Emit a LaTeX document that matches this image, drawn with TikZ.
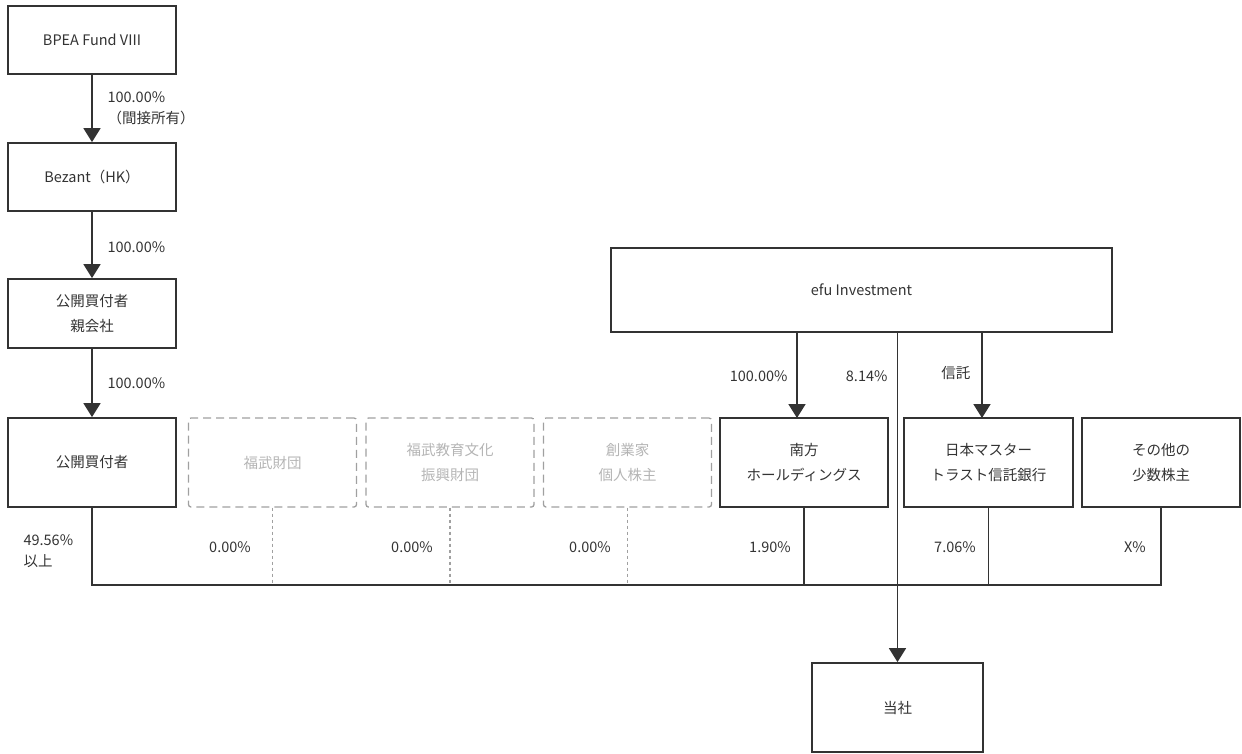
\documentclass[tikz,border=0pt]{standalone}
\usepackage{fontspec}
\setmainfont{Noto Sans CJK JP}
\usetikzlibrary{arrows.meta,positioning}
\definecolor{ink}{HTML}{333333}
\definecolor{faint}{HTML}{A0A0A0}
\definecolor{fainttext}{HTML}{B4B4B4}

\begin{document}
\begin{tikzpicture}[x=1pt, y=-1pt,
  every node/.style={font=\fontsize{14.5}{21}\selectfont, text=ink},
  ent/.style={draw=ink, line width=1.8pt, minimum width=168pt, minimum height=89pt,
    align=center, inner sep=0pt, font=\fontsize{14.5}{25}\selectfont},
  ghost/.style={ent, draw=faint, dashed, dash pattern=on 8pt off 5pt, rounded corners=2.5pt,
    line width=1.3pt, text=fainttext},
  own/.style={draw=ink, line width=1.8pt, -{Triangle[width=17pt,length=14pt]}},
  link/.style={draw=ink, line width=1.8pt},
  drop/.style={draw=faint, line width=1.4pt, dash pattern=on 3pt off 3pt},
  pct/.style={anchor=west, align=left}]

\useasboundingbox (0,0) rectangle (1242,753);

% ---------- bidder chain ----------
\node[ent, minimum height=68pt] (fund) at (92,40) {BPEA Fund VIII};
\node[ent, minimum height=68pt] (bezant) at (92,177) {Bezant（HK）};
\node[ent, minimum height=69pt] (parent) at (92,313.5) {公開買付者\\親会社};
\node[ent] (bidder) at (92,462.5) {公開買付者};

\draw[own] (fund) -- (bezant);
\draw[own] (bezant) -- (parent);
\draw[own] (parent) -- (bidder);

\node[pct] (p1) at (104,108) {100.00\%\\（間接所有）};
\node[pct] (p2) at (104,247) {100.00\%};
\node[pct] (p3) at (104,383) {100.00\%};

% ---------- shareholders ----------
\node[ghost] (fukutake) at (272.5,462.5) {福武財団};
\node[ghost] (kyoiku) at (450,462.5) {福武教育文化\\振興財団};
\node[ghost] (founder) at (627.5,462.5) {創業家\\個人株主};
\node[ent] (minami) at (804,462.5) {南方\\ホールディングス};
\node[ent, minimum width=169pt] (master) at (988.5,462.5) {日本マスター\\トラスト信託銀行};
\node[ent, minimum width=158pt] (others) at (1161,462.5) {その他の\\少数株主};

% ---------- efu and target ----------
\node[ent, minimum width=501pt, minimum height=84pt] (efu) at (861.5,290) {efu Investment};
\node[ent, minimum width=171pt] (company) at (897.5,707.5) {当社};

\coordinate (bus) at (500,585);
\coordinate (minamiin) at (797,418);
\coordinate (masterin) at (982,418);

\draw[own] (efu.south -| minamiin) -- (minamiin);
\draw[own] (efu.south -| masterin) -- (masterin);
\draw[own] (efu.south -| company.north) -- (company.north);

\node[anchor=east] (q1) at (791,376) {100.00\%};
\node[anchor=east] (q2) at (891,376) {8.14\%};
\node[anchor=east] (q3) at (974,373) {信託};

% ---------- holdings in the company ----------
\draw[link] (bidder.south) |- (bus) -| (others.south);
\draw[link] (minami.south) -- (minami.south |- bus);
\draw[link] (master.south) -- (master.south |- bus);
\foreach \n in {fukutake,kyoiku,founder}
  \draw[drop] (\n.south) -- (\n.south |- bus);

\node[pct] (h0) at (20,551) {49.56\%\\以上};
\foreach \x/\l [count=\i] in {230/0.00\%, 412/0.00\%, 590/0.00\%, 770/1.90\%, 955/7.06\%, 1135/X\%}
  \node (h\i) at (\x,547) {\l};

\end{tikzpicture}
\end{document}
